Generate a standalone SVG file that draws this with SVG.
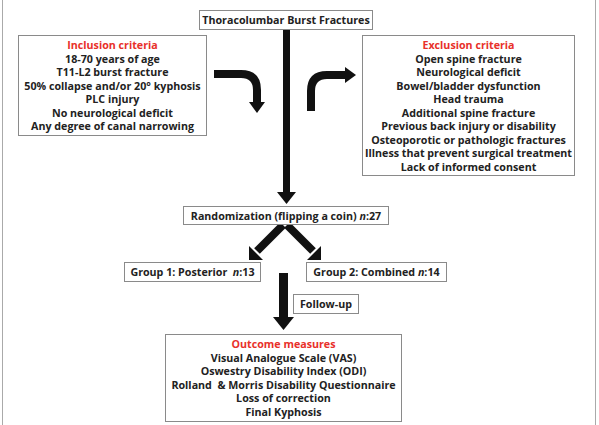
<svg xmlns="http://www.w3.org/2000/svg" width="599" height="425" viewBox="0 0 599 425">
<style>
.box{fill:#fff;stroke:#8a8a8a;stroke-width:1}
.t{font-family:"Open Sans","Liberation Sans",sans-serif;font-weight:bold;font-size:10.7px;fill:#222;text-anchor:middle}
.h{fill:#e8302a}
.ar{fill:#111}
.sh{fill:none;stroke:#111;stroke-width:8}
</style>
<rect x="0" y="0" width="599" height="425" fill="#fff"/>
<line x1="2.5" y1="0" x2="2.5" y2="425" stroke="#aaa" stroke-width="1"/>
<line x1="595.5" y1="0" x2="595.5" y2="425" stroke="#aaa" stroke-width="1"/>

<g id="connectors">
  <rect class="ar" x="283" y="30" width="7" height="163"/>
  <polygon class="ar" points="277,192 296,192 286.5,204"/>
  <path class="sh" d="M214,74 H241 Q257,74 257,90 V103"/>
  <polygon class="ar" points="249,102 265,102 257,113"/>
  <path class="sh" d="M311,111 V91 Q311,75 327,75 H346"/>
  <polygon class="ar" points="345,67 345,83 356,75"/>
  <line class="sh" x1="283" y1="225" x2="257" y2="251"/>
  <polygon class="ar" points="249,260 249,246 263,260"/>
  <line class="sh" x1="287" y1="225" x2="313" y2="251"/>
  <polygon class="ar" points="321,260 321,246 307,260"/>
  <rect class="ar" x="279" y="273" width="9" height="45"/>
  <polygon class="ar" points="273,317 294,317 283.5,330"/>
</g>

<g id="title">
  <rect class="box" x="199.5" y="10.5" width="173" height="19"/>
  <text class="t" x="286" y="24">Thoracolumbar Burst Fractures</text>
</g>

<g id="inclusion">
  <rect class="box" x="18.5" y="35.5" width="188" height="100"/>
  <text class="t" x="112.5" y="49"><tspan class="h">Inclusion criteria</tspan></text>
  <text class="t" x="112.5" y="62.5">18-70 years of age</text>
  <text class="t" x="112.5" y="76">T11-L2 burst fracture</text>
  <text class="t" x="112.5" y="89.5">50% collapse and/or 20° kyphosis</text>
  <text class="t" x="112.5" y="103">PLC injury</text>
  <text class="t" x="112.5" y="116.5">No neurological deficit</text>
  <text class="t" x="112.5" y="130">Any degree of canal narrowing</text>
</g>

<g id="exclusion">
  <rect class="box" x="362.5" y="35.5" width="212" height="140"/>
  <text class="t" x="468.5" y="49"><tspan class="h">Exclusion criteria</tspan></text>
  <text class="t" x="468.5" y="62.5">Open spine fracture</text>
  <text class="t" x="468.5" y="76">Neurological deficit</text>
  <text class="t" x="468.5" y="89.5">Bowel/bladder dysfunction</text>
  <text class="t" x="468.5" y="103">Head trauma</text>
  <text class="t" x="468.5" y="116.5">Additional spine fracture</text>
  <text class="t" x="468.5" y="130">Previous back injury or disability</text>
  <text class="t" x="468.5" y="143.5">Osteoporotic or pathologic fractures</text>
  <text class="t" x="468.5" y="157">Illness that prevent surgical treatment</text>
  <text class="t" x="468.5" y="170.5">Lack of informed consent</text>
</g>

<g id="randomization">
  <rect class="box" x="183.5" y="206.5" width="205" height="18"/>
  <text class="t" x="286" y="219.5">Randomization (flipping a coin) <tspan font-style="italic">n</tspan>:27</text>
</g>

<g id="group1">
  <rect class="box" x="124.5" y="262.5" width="136" height="19"/>
  <text class="t" x="192.5" y="276">Group 1: Posterior&#160; <tspan font-style="italic">n</tspan>:13</text>
</g>

<g id="group2">
  <rect class="box" x="306.5" y="262.5" width="140" height="19"/>
  <text class="t" x="376.5" y="276">Group 2: Combined <tspan font-style="italic">n</tspan>:14</text>
</g>

<g id="followup">
  <rect class="box" x="293.5" y="294.5" width="65" height="19"/>
  <text class="t" x="326" y="308">Follow-up</text>
</g>

<g id="outcome">
  <rect class="box" x="165.5" y="334.5" width="236" height="87"/>
  <text class="t" x="283.5" y="348"><tspan class="h">Outcome measures</tspan></text>
  <text class="t" x="283.5" y="361.5">Visual Analogue Scale (VAS)</text>
  <text class="t" x="283.5" y="375">Oswestry Disability Index (ODI)</text>
  <text class="t" x="283.5" y="388.5">Rolland&#160; &amp; Morris Disability Questionnaire</text>
  <text class="t" x="283.5" y="402">Loss of correction</text>
  <text class="t" x="283.5" y="415.5">Final Kyphosis</text>
</g>
</svg>
